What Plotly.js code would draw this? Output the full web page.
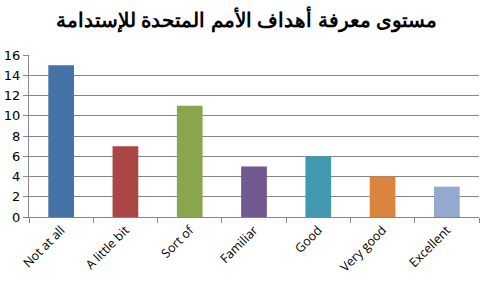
<!DOCTYPE html>
<html><head><meta charset="utf-8">
<script src="https://cdn.plot.ly/plotly-3.0.1.min.js"></script>
<style>html,body{margin:0;padding:0;background:#fff}#chart{width:493px;height:282px}</style>
</head><body><div id="chart"></div>
<script>
var categories = ["Not at all","A little bit","Sort of","Familiar","Good","Very good","Excellent"];
var values = [15,7,11,5,6,4,3];
var colors = ["#4572A7","#AA4643","#89A54E","#71588F","#4198AF","#DB843D","#93A9CF"];
var yTicks = [0,2,4,6,8,10,12,14,16];
var titleText = "مستوى معرفة أهداف الأمم المتحدة للإستدامة";

Plotly.newPlot("chart", [{
  type: "bar", x: categories, y: values,
  marker: {color: colors}, width: 0.4, hoverinfo: "none"
}], {
  width: 493, height: 282,
  margin: {l: 29, r: 14, t: 55, b: 65},
  paper_bgcolor: "#fff", plot_bgcolor: "#fff",
  title: {text: "<b>" + titleText + "</b>", x: 0.5, xanchor: "center", y: 0.93, yanchor: "middle",
          font: {family: "Liberation Sans, Arial", size: 20, color: "#000"}},
  xaxis: {type: "category", tickangle: -45, ticks: "outside", tickson: "boundaries", ticklen: 5,
          tickcolor: "#868686", showline: true, linecolor: "#868686", linewidth: 1,
          tickfont: {family: "Open Sans, sans-serif", size: 12.5, color: "#000"}, showgrid: false},
  yaxis: {range: [0,16], tickvals: yTicks, ticks: "outside", ticklen: 5, tickcolor: "#868686",
          showline: true, linecolor: "#868686", gridcolor: "#868686", gridwidth: 1,
          zeroline: false, tickfont: {family: "DejaVu Sans, sans-serif", size: 13, color: "#000"}},
  showlegend: false, bargap: 0.6
}, {staticPlot: true, displayModeBar: false});
</script></body></html>
